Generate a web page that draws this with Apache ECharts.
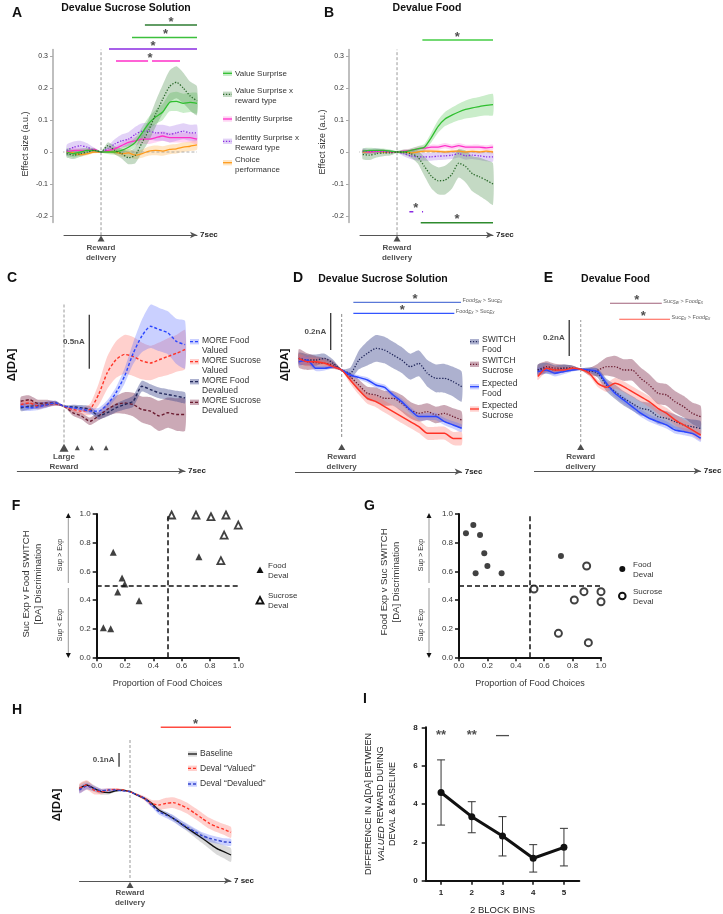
<!DOCTYPE html>
<html>
<head>
<meta charset="utf-8">
<script src="https://cdn.jsdelivr.net/npm/echarts@6.0.0/dist/echarts.min.js"></script>
<style>
  html, body { margin: 0; padding: 0; background: #fff; }
  #chart { width: 723px; height: 914px; }
</style>
</head>
<body>
<div id="chart"></div>
<script>
// ---------- data ----------
const timeAB = [-2.5, -2, -1.5, -1, -0.5, 0, 0.5, 1, 1.5, 2, 2.5, 3, 3.5, 4, 4.5, 5, 5.5, 6, 6.5, 7];
const timeH = [-3.5, -3, -2.5, -2, -1.5, -1, -0.5, 0, 0.5, 1, 1.5, 2, 2.5, 3, 3.5, 4, 4.5, 5, 5.5, 6, 6.5, 7];
const effectTicks = [-0.2, -0.1, 0, 0.1, 0.2, 0.3];

// A: devalue sucrose solution (effect size, a.u.)
const aValue = [0, -0.005, 0, 0.005, 0.005, 0, 0, 0, 0.005, 0.015, 0.03, 0.06, 0.09, 0.11, 0.125, 0.155, 0.158, 0.152, 0.155, 0.152];
const aValueSem = [0.012, 0.012, 0.01, 0.008, 0.006, 0.002, 0.006, 0.008, 0.01, 0.012, 0.015, 0.018, 0.02, 0.022, 0.025, 0.028, 0.03, 0.03, 0.03, 0.032];
const aValueRT = [-0.005, -0.01, -0.005, 0, 0.005, 0, 0.02, 0.005, -0.005, -0.018, -0.01, 0.03, 0.07, 0.12, 0.165, 0.205, 0.218, 0.2, 0.175, 0.16];
const aValueRTSem = [0.012, 0.012, 0.01, 0.008, 0.006, 0.002, 0.01, 0.012, 0.015, 0.02, 0.025, 0.03, 0.035, 0.04, 0.045, 0.05, 0.05, 0.048, 0.045, 0.045];
const aIdent = [0, 0.005, 0.005, 0.005, 0.008, 0, 0.005, 0.01, 0.02, 0.03, 0.035, 0.04, 0.04, 0.045, 0.05, 0.045, 0.045, 0.045, 0.045, 0.04];
const aIdentSem = [0.008, 0.008, 0.008, 0.006, 0.005, 0.002, 0.006, 0.008, 0.01, 0.012, 0.013, 0.014, 0.015, 0.015, 0.015, 0.015, 0.015, 0.015, 0.015, 0.015];
const aIdentRT = [0.005, 0.015, 0.02, 0.015, 0.005, 0, 0.01, 0.025, 0.035, 0.04, 0.055, 0.065, 0.065, 0.06, 0.06, 0.055, 0.06, 0.065, 0.06, 0.06];
const aIdentRTSem = [0.018, 0.018, 0.015, 0.012, 0.008, 0.003, 0.01, 0.015, 0.02, 0.022, 0.024, 0.025, 0.025, 0.025, 0.025, 0.025, 0.025, 0.025, 0.025, 0.025];
const aChoice = [0, -0.003, -0.008, -0.005, 0, 0, 0.002, 0, -0.005, -0.003, -0.01, -0.005, 0.003, 0.005, 0.003, 0.008, 0.01, 0.015, 0.018, 0.022];
const aChoiceSem = [0.006, 0.006, 0.006, 0.005, 0.004, 0.002, 0.006, 0.008, 0.01, 0.012, 0.012, 0.013, 0.014, 0.015, 0.015, 0.015, 0.015, 0.015, 0.015, 0.015];
const sigAValueRT = [[3.2, 7]];
const sigAValue = [[2.26, 7]];
const sigAIdentRT = [[0.58, 7]];
const sigAIdent = [[1.09, 3.43], [3.72, 5.76]];
const sigAStars = [5.1, 4.7, 3.8, 3.58];

// B: devalue food
const bValue = [0.003, 0.005, 0.005, 0.005, 0.003, 0, 0, 0.005, 0.01, 0.015, 0.045, 0.08, 0.103, 0.115, 0.125, 0.133, 0.138, 0.142, 0.146, 0.148];
const bValueSem = [0.008, 0.008, 0.007, 0.006, 0.005, 0.002, 0.004, 0.006, 0.008, 0.01, 0.015, 0.02, 0.022, 0.024, 0.026, 0.028, 0.03, 0.03, 0.032, 0.033];
const bValueRT = [-0.008, -0.01, -0.005, -0.003, -0.003, 0, 0, -0.005, -0.015, -0.045, -0.075, -0.09, -0.088, -0.07, -0.035, -0.045, -0.068, -0.077, -0.088, -0.1];
const bValueRTSem = [0.015, 0.015, 0.012, 0.01, 0.008, 0.003, 0.008, 0.012, 0.02, 0.03, 0.038, 0.042, 0.045, 0.045, 0.045, 0.05, 0.055, 0.06, 0.063, 0.065];
const bIdent = [0.002, 0, 0.002, 0.003, 0, 0, 0.003, 0.005, 0.01, 0.012, 0.015, 0.015, 0.02, 0.015, 0.02, 0.015, 0.015, 0.015, 0.013, 0.015];
const bIdentSem = [0.006, 0.006, 0.006, 0.005, 0.004, 0.002, 0.005, 0.006, 0.007, 0.008, 0.008, 0.008, 0.008, 0.008, 0.008, 0.008, 0.008, 0.008, 0.008, 0.008];
const bIdentRT = [0.003, 0.002, 0.004, 0.002, 0.001, 0, -0.005, -0.012, -0.015, -0.015, -0.015, -0.013, -0.012, -0.01, -0.005, -0.012, -0.01, -0.012, -0.015, -0.015];
const bIdentRTSem = [0.008, 0.008, 0.008, 0.006, 0.005, 0.002, 0.008, 0.01, 0.012, 0.012, 0.012, 0.012, 0.012, 0.012, 0.012, 0.012, 0.012, 0.013, 0.014, 0.015];
const bChoice = [0, 0, 0.002, 0, 0, 0, 0, -0.003, 0, 0.003, 0.003, 0.002, 0, 0.002, 0.003, 0, 0.002, 0, 0.003, 0];
const bChoiceSem = [0.005, 0.005, 0.005, 0.004, 0.004, 0.002, 0.004, 0.005, 0.005, 0.005, 0.005, 0.005, 0.005, 0.005, 0.005, 0.005, 0.005, 0.005, 0.005, 0.005];
const sigBValue = [[1.85, 7]];
const sigBValueRT = [[1.73, 7]];
const sigBIdentRT = [[0.9, 1.19], [1.82, 1.9]];
const sigBStars = [4.4, 4.37, 1.36];

// C: MORE trials (nA)
const cRewardTimes = [0, 0.77, 1.6, 2.43];
const cFoodVal = [0, -0.015, -0.006, 0.015, 0.03, 0, -0.015, -0.025, -0.046, -0.046, 0.015, 0.123, 0.278, 0.49, 0.65, 0.74, 0.71, 0.68, 0.6, 0.57];
const cFoodValSem = [0.03, 0.03, 0.03, 0.03, 0.02, 0.005, 0.02, 0.025, 0.03, 0.03, 0.04, 0.05, 0.07, 0.1, 0.15, 0.2, 0.2, 0.2, 0.21, 0.22];
const cSucVal = [0.015, 0.03, 0, 0.015, 0.025, 0, -0.03, -0.046, -0.03, 0.108, 0.31, 0.43, 0.48, 0.46, 0.42, 0.4, 0.43, 0.46, 0.49, 0.525];
const cSucValSem = [0.03, 0.03, 0.03, 0.025, 0.02, 0.005, 0.02, 0.03, 0.05, 0.1, 0.15, 0.17, 0.18, 0.18, 0.17, 0.16, 0.16, 0.17, 0.17, 0.18];
const cFoodDev = [-0.015, 0, 0.006, 0.015, 0.03, 0, -0.006, -0.015, -0.03, -0.09, -0.06, -0.015, 0.015, 0.046, 0.185, 0.154, 0.123, 0.108, 0.093, 0.077];
const cFoodDevSem = [0.03, 0.03, 0.03, 0.025, 0.02, 0.005, 0.02, 0.025, 0.03, 0.03, 0.035, 0.04, 0.045, 0.05, 0.05, 0.05, 0.05, 0.05, 0.05, 0.05];
const cSucDev = [0.046, 0.06, 0.025, 0.03, 0.025, 0, -0.06, -0.09, -0.14, -0.09, -0.03, 0.015, 0.03, 0.015, -0.03, -0.046, -0.09, -0.06, -0.077, -0.077];
const cSucDevSem = [0.04, 0.04, 0.035, 0.03, 0.02, 0.005, 0.025, 0.03, 0.035, 0.04, 0.06, 0.08, 0.1, 0.11, 0.12, 0.13, 0.14, 0.14, 0.15, 0.15];

// D: devalue sucrose solution (nA)
const dSwFood = [0.063, 0.054, 0.054, 0.063, 0.036, 0, -0.018, 0.054, 0.09, 0.117, 0.108, 0.081, 0.054, 0.018, 0.036, -0.018, -0.045, -0.045, -0.063, -0.09];
const dSwFoodSem = [0.03, 0.03, 0.03, 0.025, 0.02, 0.005, 0.03, 0.05, 0.065, 0.072, 0.072, 0.072, 0.07, 0.07, 0.07, 0.072, 0.075, 0.078, 0.08, 0.08];
const dSwSuc = [0.063, 0.045, 0.04, 0.036, 0.027, 0, -0.036, -0.081, -0.126, -0.135, -0.153, -0.153, -0.18, -0.216, -0.234, -0.225, -0.243, -0.234, -0.252, -0.27];
const dSwSucSem = [0.05, 0.045, 0.035, 0.03, 0.02, 0.005, 0.02, 0.03, 0.035, 0.04, 0.04, 0.04, 0.045, 0.045, 0.045, 0.045, 0.045, 0.045, 0.045, 0.045];
const dExpFood = [0.045, 0.054, 0.009, 0.009, 0.018, 0, -0.027, -0.04, -0.054, -0.081, -0.094, -0.135, -0.171, -0.216, -0.252, -0.252, -0.252, -0.279, -0.297, -0.315];
const dExpFoodSem = [0.02, 0.02, 0.015, 0.012, 0.01, 0.004, 0.01, 0.012, 0.015, 0.015, 0.015, 0.015, 0.017, 0.018, 0.02, 0.02, 0.02, 0.02, 0.02, 0.02];
const dExpSuc = [0.063, 0.045, 0.045, 0.036, 0.018, 0, -0.054, -0.108, -0.153, -0.171, -0.198, -0.225, -0.252, -0.279, -0.306, -0.342, -0.342, -0.342, -0.37, -0.37];
const dExpSucSem = [0.025, 0.025, 0.02, 0.015, 0.012, 0.004, 0.02, 0.025, 0.03, 0.03, 0.032, 0.033, 0.035, 0.035, 0.035, 0.035, 0.035, 0.035, 0.035, 0.035];
const sigDSwFood = [[0.68, 6.96]];
const sigDExpFood = [[0.68, 6.57]];
const sigDStars = [4.28, 3.54];

// E: devalue food (nA)
const eSwFood = [-0.004, 0.006, -0.004, 0.006, 0.006, 0, -0.004, -0.022, -0.087, -0.124, -0.161, -0.189, -0.217, -0.226, -0.263, -0.272, -0.291, -0.309, -0.319, -0.328];
const eSwFoodSem = [0.03, 0.03, 0.025, 0.02, 0.015, 0.005, 0.015, 0.025, 0.035, 0.04, 0.04, 0.04, 0.04, 0.04, 0.04, 0.04, 0.04, 0.04, 0.04, 0.04];
const eSwSuc = [-0.004, 0.015, 0.006, 0.006, 0.006, 0, -0.013, -0.004, 0.015, 0.015, -0.004, -0.004, -0.05, -0.087, -0.133, -0.142, -0.18, -0.207, -0.244, -0.263];
const eSwSucSem = [0.03, 0.03, 0.025, 0.02, 0.015, 0.005, 0.02, 0.035, 0.05, 0.06, 0.06, 0.06, 0.06, 0.06, 0.06, 0.06, 0.06, 0.06, 0.06, 0.06];
const eExpFood = [-0.013, -0.004, -0.022, -0.013, -0.004, 0, -0.004, -0.013, -0.078, -0.133, -0.17, -0.207, -0.244, -0.272, -0.291, -0.309, -0.337, -0.346, -0.356, -0.383];
const eExpFoodSem = [0.02, 0.02, 0.018, 0.015, 0.01, 0.004, 0.01, 0.015, 0.02, 0.02, 0.02, 0.02, 0.02, 0.02, 0.02, 0.02, 0.02, 0.02, 0.02, 0.02];
const eExpSuc = [-0.04, 0.006, -0.004, -0.004, 0.006, 0, -0.022, -0.078, -0.1, -0.078, -0.096, -0.124, -0.152, -0.18, -0.217, -0.244, -0.281, -0.309, -0.337, -0.365];
const eExpSucSem = [0.02, 0.02, 0.02, 0.015, 0.01, 0.004, 0.015, 0.02, 0.025, 0.03, 0.03, 0.03, 0.03, 0.03, 0.03, 0.03, 0.03, 0.03, 0.03, 0.03];
const sigESwSuc = [[1.71, 4.73]];
const sigEExpSuc = [[2.25, 5.21]];
const sigEStars = [3.27, 3.65];

// F / G: discrimination vs proportion of food choices
const fFoodX = [0.047, 0.099, 0.117, 0.148, 0.179, 0.198, 0.299, 0.722];
const fFoodY = [0.207, 0.2, 0.733, 0.456, 0.553, 0.511, 0.395, 0.702];
const fSucX = [0.529, 0.701, 0.807, 0.913, 1.0, 0.9, 0.877];
const fSucY = [0.993, 0.993, 0.981, 0.993, 0.923, 0.853, 0.674];
const gFoodX = [0.049, 0.101, 0.148, 0.178, 0.2, 0.117, 0.3, 0.718];
const gFoodY = [0.865, 0.923, 0.853, 0.726, 0.637, 0.586, 0.586, 0.707];
const gSucX = [0.528, 0.899, 0.812, 0.88, 1.0, 1.0, 0.7, 0.911];
const gSucY = [0.477, 0.637, 0.4, 0.458, 0.458, 0.388, 0.167, 0.102];

// H: baseline vs deval (nA)
const hBase = [0.024, 0.049, 0.024, 0, -0.007, 0.007, 0.012, 0, -0.024, -0.049, -0.085, -0.134, -0.163, -0.195, -0.231, -0.268, -0.304, -0.34, -0.377, -0.414, -0.438, -0.462];
const hBaseSem = [0.03, 0.03, 0.025, 0.02, 0.015, 0.01, 0.008, 0.004, 0.008, 0.01, 0.012, 0.015, 0.017, 0.02, 0.022, 0.025, 0.03, 0.035, 0.04, 0.045, 0.048, 0.05];
const hVal = [0.024, 0.049, 0.012, 0, 0.012, 0.017, 0.012, 0, -0.024, -0.049, -0.085, -0.097, -0.085, -0.08, -0.097, -0.122, -0.158, -0.195, -0.231, -0.255, -0.275, -0.297];
const hValSem = [0.035, 0.035, 0.03, 0.02, 0.015, 0.01, 0.008, 0.004, 0.01, 0.015, 0.025, 0.035, 0.04, 0.04, 0.04, 0.04, 0.04, 0.04, 0.04, 0.04, 0.04, 0.04];
const hDev = [0.012, 0.041, 0.024, 0.007, 0.012, 0.012, 0.007, 0, -0.024, -0.049, -0.097, -0.146, -0.17, -0.195, -0.231, -0.26, -0.292, -0.321, -0.34, -0.353, -0.365, -0.37];
const hDevSem = [0.025, 0.025, 0.02, 0.015, 0.012, 0.008, 0.006, 0.004, 0.008, 0.01, 0.015, 0.02, 0.022, 0.025, 0.025, 0.025, 0.025, 0.025, 0.025, 0.025, 0.025, 0.025];
const sigH = [[2.13, 7]];
const sigHStars = [4.55];

// I: difference per 2-block bin
const iBins = ['1', '2', '3', '4', '5'];
const iMean = [4.6, 3.34, 2.33, 1.17, 1.74];
const iUpper = [6.3, 4.12, 3.34, 1.88, 2.73];
const iLower = [2.9, 2.5, 1.29, 0.45, 0.77];
const iMarks = ['**', '**', '—'];

// ---------- helpers ----------
const FONT = '"Liberation Sans", Arial, Helvetica, sans-serif';
const grids = [], xAxes = [], yAxes = [], series = [], graphics = [];

function addGrid(g, x, y) {
    grids.push(Object.assign({ containLabel: false, outerBoundsMode: 'none' }, g));
    const gi = grids.length - 1;
    x.gridIndex = gi; y.gridIndex = gi;
    xAxes.push(x); yAxes.push(y);
    return gi;
}

function timeAxis(min, name, offset) {
    return {
        type: 'value', min: min, max: 7, offset: offset || 0,
        axisLine: { show: true, onZero: false, symbol: ['none', 'arrow'], symbolSize: [5, 7], lineStyle: { color: '#555', width: 1 } },
        axisTick: { show: false }, axisLabel: { show: false }, splitLine: { show: false },
        name: name, nameLocation: 'end', nameGap: 3,
        nameTextStyle: { fontFamily: FONT, fontSize: 8, fontWeight: 'bold', color: '#222', verticalAlign: 'middle' }
    };
}

function hiddenY(min, max) {
    return { type: 'value', min: min, max: max, show: false, axisLine: { onZero: false }, splitLine: { show: false } };
}

function effectY() {
    return {
        type: 'value', min: -0.22, max: 0.32, offset: 11,
        axisLine: { show: true, onZero: false, lineStyle: { color: '#aaa', width: 1.5 } },
        axisTick: { show: true, customValues: effectTicks, length: 3, lineStyle: { color: '#aaa' } },
        axisLabel: { customValues: effectTicks, fontFamily: FONT, fontSize: 7, color: '#333', margin: 5,
            formatter: v => (v === 0 ? '0' : v.toFixed(1)) },
        splitLine: { show: false }
    };
}

function band(gi, times, mean, sem, fill) {
    series.push({
        type: 'custom', xAxisIndex: gi, yAxisIndex: gi, silent: true, z: 1,
        data: times.map((t, i) => [t, mean[i] - sem[i], mean[i] + sem[i]]),
        encode: { x: 0, y: [1, 2] },
        renderItem: function (params, api) {
            if (params.dataIndex !== 0) return null;
            const top = [], bottom = [];
            for (let i = 0; i < times.length; i++) {
                top.push(api.coord([times[i], mean[i] + sem[i]]));
                bottom.push(api.coord([times[i], mean[i] - sem[i]]));
            }
            return { type: 'polygon', shape: { points: top.concat(bottom.reverse()), smooth: 0.2 }, style: { fill: fill } };
        }
    });
}

function trace(gi, times, mean, color, type, width) {
    series.push({
        type: 'line', xAxisIndex: gi, yAxisIndex: gi, silent: true, z: 3,
        data: times.map((t, i) => [t, mean[i]]), symbol: 'none', smooth: 0.2,
        lineStyle: { color: color, width: width || 1.3, type: type || 'solid' }
    });
}

function seg(gi, pts, color, width, type) {
    series.push({
        type: 'line', xAxisIndex: gi, yAxisIndex: gi, silent: true, z: 2, clip: false,
        data: pts, symbol: 'none', lineStyle: { color: color, width: width, type: type || 'solid' }
    });
}

function mark(gi, pts, symbol, size, color, label, extra) {
    series.push(Object.assign({
        type: 'scatter', xAxisIndex: gi, yAxisIndex: gi, silent: true, z: 5, clip: false,
        data: pts, symbol: symbol, symbolSize: size, itemStyle: { color: color },
        label: Object.assign({ show: !!label, fontFamily: FONT, color: '#222' }, label || {})
    }, extra || {}));
}

function textAt(gi, pt, text, label) {
    mark(gi, [pt], 'circle', 1, 'rgba(0,0,0,0)', Object.assign({ formatter: text }, label));
}

function sigBar(gi, segs, y, color, star, width) {
    segs.forEach(s => seg(gi, [[s[0], y], [s[1], y]], color, width || 1.5));
    textAt(gi, [star, y], '*', { position: 'inside', offset: [0, -3], fontSize: 13, fontWeight: 'bold', color: '#222' });
}

function scaleBar(gi, t, y0, amount, text) {
    seg(gi, [[t, y0], [t, y0 + amount]], '#222', 1.2);
    textAt(gi, [t, y0 + amount / 2], text, { position: 'left', distance: 4, fontSize: 8, fontWeight: 'bold' });
}

function reward(gi, y, text, size, dist) {
    mark(gi, [[0, y]], 'triangle', size || [7, 6], '#222', {
        position: 'bottom', distance: dist, formatter: text, fontSize: 8, fontWeight: 'bold', lineHeight: 10
    });
}

function txt(x, y, text, style, rot) {
    graphics.push({
        type: 'text', x: x, y: y, rotation: rot || 0, silent: true,
        style: Object.assign({ text: text, fontFamily: FONT, fontSize: 8, fill: '#222', align: 'left', verticalAlign: 'middle' }, style || {})
    });
}

function legendItem(x, y, textTop, text, color, dash, fill, fontSize) {
    graphics.push({ type: 'rect', silent: true, shape: { x: x, y: y - 2.7, width: 9, height: 5.4 }, style: { fill: fill } });
    graphics.push({ type: 'line', silent: true, shape: { x1: x, y1: y, x2: x + 9, y2: y }, style: { stroke: color, lineWidth: 1.3, lineDash: dash } });
    graphics.push({
        type: 'text', silent: true, x: x + 12, y: textTop,
        style: { text: text, fontFamily: FONT, fontSize: fontSize, lineHeight: 10, fill: '#333', align: 'left', verticalAlign: 'top' }
    });
}

const DOT = [1.3, 1.6];
const DASH = [3, 2];
const COL = {
    value: '#2fbf2f', valueBand: 'rgba(90,200,90,0.32)',
    valueRT: '#2b6a2b', valueRTBand: 'rgba(70,140,70,0.32)',
    ident: '#ff2fc8', identBand: 'rgba(255,120,220,0.32)',
    identRT: '#8a2be2', identRTBand: 'rgba(165,115,230,0.32)',
    choice: '#ff9a1a', choiceBand: 'rgba(255,190,100,0.38)',
    blue: '#2a46ff', blueBand: 'rgba(90,110,255,0.32)',
    red: '#ff3326', redBand: 'rgba(255,110,100,0.32)',
    navy: '#22285c', navyBand: 'rgba(60,70,140,0.42)',
    maroon: '#6b1c30', maroonBand: 'rgba(130,50,80,0.42)',
    black: '#111', greyBand: 'rgba(150,150,150,0.35)'
};

// ---------- A ----------
const gA = addGrid({ left: 64, top: 49.6, width: 133, height: 172.8 }, timeAxis(-2.7, '7sec', 12.6), effectY());
seg(gA, [[-3.25, 0], [7, 0]], '#999', 0.8, [3, 2]);
seg(gA, [[0, -0.26], [0, 0.32]], '#999', 1, [3, 2]);
band(gA, timeAB, aChoice, aChoiceSem, COL.choiceBand);
band(gA, timeAB, aIdent, aIdentSem, COL.identBand);
band(gA, timeAB, aIdentRT, aIdentRTSem, COL.identRTBand);
band(gA, timeAB, aValue, aValueSem, COL.valueBand);
band(gA, timeAB, aValueRT, aValueRTSem, COL.valueRTBand);
trace(gA, timeAB, aChoice, COL.choice);
trace(gA, timeAB, aIdent, COL.ident);
trace(gA, timeAB, aIdentRT, COL.identRT, DOT);
trace(gA, timeAB, aValue, COL.value);
trace(gA, timeAB, aValueRT, COL.valueRT, DOT);
sigBar(gA, sigAValueRT, 0.397, '#2e7d32', sigAStars[0]);
sigBar(gA, sigAValue, 0.358, '#3cc03c', sigAStars[1]);
sigBar(gA, sigAIdentRT, 0.322, '#8a2be2', sigAStars[2]);
sigBar(gA, sigAIdent, 0.284, '#ff2fc8', sigAStars[3]);
reward(gA, -0.27, 'Reward\ndelivery', [7, 6], 1);

// ---------- B ----------
const gB = addGrid({ left: 360, top: 49.6, width: 133, height: 172.8 }, timeAxis(-2.7, '7sec', 12.6), effectY());
seg(gB, [[-3.3, 0], [7, 0]], '#999', 0.8, [3, 2]);
seg(gB, [[0, -0.26], [0, 0.32]], '#999', 1, [3, 2]);
band(gB, timeAB, bChoice, bChoiceSem, COL.choiceBand);
band(gB, timeAB, bIdent, bIdentSem, COL.identBand);
band(gB, timeAB, bIdentRT, bIdentRTSem, COL.identRTBand);
band(gB, timeAB, bValue, bValueSem, COL.valueBand);
band(gB, timeAB, bValueRT, bValueRTSem, COL.valueRTBand);
trace(gB, timeAB, bChoice, COL.choice);
trace(gB, timeAB, bIdent, COL.ident);
trace(gB, timeAB, bIdentRT, COL.identRT, DOT);
trace(gB, timeAB, bValue, COL.value);
trace(gB, timeAB, bValueRT, COL.valueRT, DOT);
sigBar(gB, sigBValue, 0.35, '#44cc44', sigBStars[0]);
sigBar(gB, sigBValueRT, -0.221, '#2e8b2e', sigBStars[1]);
sigBar(gB, sigBIdentRT, -0.187, '#8a2be2', sigBStars[2]);
reward(gB, -0.27, 'Reward\ndelivery', [7, 6], 1);

// ---------- C ----------
const gC = addGrid({ left: 17.3, top: 298.2, width: 167.8, height: 172.8 }, timeAxis(-2.7, '7sec'), hiddenY(-0.6, 1.0));
seg(gC, [[0, -0.336], [0, 0.96]], '#aaa', 1.2, [3, 2]);
band(gC, timeAB, cSucDev, cSucDevSem, COL.maroonBand);
band(gC, timeAB, cFoodDev, cFoodDevSem, COL.navyBand);
band(gC, timeAB, cSucVal, cSucValSem, COL.redBand);
band(gC, timeAB, cFoodVal, cFoodValSem, COL.blueBand);
trace(gC, timeAB, cSucDev, COL.maroon, DASH, 1.4);
trace(gC, timeAB, cFoodDev, COL.navy, DASH, 1.4);
trace(gC, timeAB, cSucVal, COL.red, DASH, 1.4);
trace(gC, timeAB, cFoodVal, COL.blue, DASH, 1.4);
scaleBar(gC, 1.46, 0.346, 0.5, '0.5nA');
mark(gC, cRewardTimes.slice(1).map(t => [t, -0.385]), 'triangle', [5, 5], '#222');
reward(gC, -0.385, 'Large\nReward', [9, 8], 0);

// ---------- D ----------
const gD = addGrid({ left: 295.4, top: 277.5, width: 166.3, height: 194.25 }, timeAxis(-2.7, '7sec'), hiddenY(-0.55, 0.5));
seg(gD, [[0, -0.362], [0, 0.308]], '#888', 1, [3, 2]);
band(gD, timeAB, dSwFood, dSwFoodSem, COL.navyBand);
band(gD, timeAB, dSwSuc, dSwSucSem, COL.maroonBand);
band(gD, timeAB, dExpFood, dExpFoodSem, COL.blueBand);
band(gD, timeAB, dExpSuc, dExpSucSem, COL.redBand);
trace(gD, timeAB, dSwFood, COL.navy, DOT);
trace(gD, timeAB, dSwSuc, COL.maroon, DOT);
trace(gD, timeAB, dExpFood, COL.blue, 'solid', 1.5);
trace(gD, timeAB, dExpSuc, COL.red, 'solid', 1.5);
sigBar(gD, sigDSwFood, 0.366, '#5a78d8', sigDStars[0], 1.2);
sigBar(gD, sigDExpFood, 0.306, '#3355ff', sigDStars[1], 1.2);
const subRich = {
    n: { fontFamily: FONT, fontSize: 5.5, color: '#333' },
    s: { fontFamily: FONT, fontSize: 4.5, color: '#333', fontStyle: 'italic', verticalAlign: 'bottom', padding: [3, 0, 0, 0] }
};
textAt(gD, [sigDSwFood[0][1], 0.366], '{n|Food}{s|Sw}{n| > Suc}{s|Ex}', { position: 'right', distance: 1, offset: [0, -2], rich: subRich });
textAt(gD, [sigDExpFood[0][1], 0.306], '{n|Food}{s|Ex}{n| > Suc}{s|Ex}', { position: 'right', distance: 1, offset: [0, -2], rich: subRich });
scaleBar(gD, -0.64, 0.108, 0.2, '0.2nA');
reward(gD, -0.416, 'Reward\ndelivery', [7, 6], 1.5);

// ---------- E ----------
const gE = addGrid({ left: 534.4, top: 279.3, width: 166.3, height: 191.7 }, timeAxis(-2.7, '7sec'), hiddenY(-0.565, 0.5));
seg(gE, [[0, -0.404], [0, 0.274]], '#aaa', 1.2, [3, 2]);
band(gE, timeAB, eSwSuc, eSwSucSem, COL.maroonBand);
band(gE, timeAB, eSwFood, eSwFoodSem, COL.navyBand);
band(gE, timeAB, eExpFood, eExpFoodSem, COL.blueBand);
band(gE, timeAB, eExpSuc, eExpSucSem, COL.redBand);
trace(gE, timeAB, eSwSuc, COL.maroon, DOT);
trace(gE, timeAB, eSwFood, COL.navy, DOT);
trace(gE, timeAB, eExpFood, COL.blue, 'solid', 1.5);
trace(gE, timeAB, eExpSuc, COL.red, 'solid', 1.5);
sigBar(gE, sigESwSuc, 0.367, '#a0607a', sigEStars[0], 1.2);
sigBar(gE, sigEExpSuc, 0.278, '#ff5a4a', sigEStars[1], 1.2);
textAt(gE, [sigESwSuc[0][1], 0.367], '{n|Suc}{s|Sw}{n| > Food}{s|Ex}', { position: 'right', distance: 1, offset: [0, -2], rich: subRich });
textAt(gE, [sigEExpSuc[0][1], 0.278], '{n|Suc}{s|Ex}{n| > Food}{s|Ex}', { position: 'right', distance: 1, offset: [0, -2], rich: subRich });
scaleBar(gE, -0.67, 0.074, 0.2, '0.2nA');
reward(gE, -0.432, 'Reward\ndelivery', [7, 6], 1.5);

// ---------- F / G ----------
function propX() {
    return {
        type: 'value', min: 0, max: 1, interval: 0.2,
        axisLine: { show: true, onZero: false, lineStyle: { color: '#111', width: 2 } },
        axisTick: { show: true, length: 4, lineStyle: { color: '#111', width: 1.5 } },
        axisLabel: { fontFamily: FONT, fontSize: 8, color: '#333', margin: 4, formatter: v => v.toFixed(1) },
        splitLine: { show: false },
        name: 'Proportion of Food Choices', nameLocation: 'middle', nameGap: 22,
        nameTextStyle: { fontFamily: FONT, fontSize: 9, color: '#333' }
    };
}
function propY() {
    return {
        type: 'value', min: 0, max: 1, interval: 0.2,
        axisLine: { show: true, onZero: false, lineStyle: { color: '#111', width: 2 } },
        axisTick: { show: true, length: 4, lineStyle: { color: '#111', width: 1.5 } },
        axisLabel: { fontFamily: FONT, fontSize: 8, color: '#333', margin: 6, formatter: v => v.toFixed(1) },
        splitLine: { show: false }
    };
}
const quadLines = {
    silent: true, symbol: 'none', label: { show: false },
    lineStyle: { color: '#111', width: 1.5, type: [5, 3] },
    data: [{ yAxis: 0.5 }, { xAxis: 0.5 }]
};
const gF = addGrid({ left: 96.7, top: 514, width: 141.6, height: 143.3 }, propX(), propY());
mark(gF, fFoodX.map((x, i) => [x, fFoodY[i]]), 'triangle', [7, 7], '#111', null, { markLine: quadLines });
mark(gF, fSucX.map((x, i) => [x, fSucY[i]]), 'triangle', [7, 7], '#fff', null,
    { itemStyle: { color: '#fff', borderColor: '#111', borderWidth: 1.8 } });

const gG = addGrid({ left: 459, top: 514, width: 142, height: 143.3 }, propX(), propY());
mark(gG, gFoodX.map((x, i) => [x, gFoodY[i]]), 'circle', 6, '#111', null, { markLine: quadLines });
mark(gG, gSucX.map((x, i) => [x, gSucY[i]]), 'circle', 7, '#fff', null,
    { itemStyle: { color: '#fff', borderColor: '#111', borderWidth: 2 } });

// ---------- H ----------
const gH = addGrid({ left: 79.5, top: 723.2, width: 151.5, height: 157.55 }, timeAxis(-3.5, '7 sec'), hiddenY(-0.65, 0.5));
seg(gH, [[0, -0.63], [0, 0.385]], '#aaa', 1.2, [3, 2]);
band(gH, timeH, hBase, hBaseSem, COL.greyBand);
band(gH, timeH, hVal, hValSem, COL.redBand);
band(gH, timeH, hDev, hDevSem, COL.blueBand);
trace(gH, timeH, hBase, COL.black, 'solid', 1.3);
trace(gH, timeH, hVal, COL.red, DASH, 1.4);
trace(gH, timeH, hDev, '#3344cc', DASH, 1.4);
sigBar(gH, sigH, 0.47, '#ff4a40', sigHStars[0]);
scaleBar(gH, -0.76, 0.182, 0.1, '0.1nA');
reward(gH, -0.681, 'Reward\ndelivery', [7, 6], 0);

// ---------- I ----------
const gI = addGrid({ left: 425.7, top: 727.3, width: 153.6, height: 153.4 },
    {
        type: 'category', data: iBins, boundaryGap: true,
        axisLine: { show: true, onZero: false, lineStyle: { color: '#111', width: 2 } },
        axisTick: { show: true, alignWithLabel: true, length: 4, lineStyle: { color: '#111', width: 1.5 } },
        axisLabel: { fontFamily: FONT, fontSize: 8, fontWeight: 'bold', color: '#222', margin: 8 },
        name: '2 BLOCK BINS', nameLocation: 'middle', nameGap: 25,
        nameTextStyle: { fontFamily: FONT, fontSize: 9.5, color: '#222' }
    },
    {
        type: 'value', min: 0, max: 8, interval: 2,
        axisLine: { show: true, onZero: false, lineStyle: { color: '#111', width: 2 } },
        axisTick: { show: true, length: 4, lineStyle: { color: '#111', width: 1.5 } },
        axisLabel: { fontFamily: FONT, fontSize: 8, fontWeight: 'bold', color: '#222', margin: 8 },
        splitLine: { show: false }
    });
series.push({
    type: 'custom', xAxisIndex: gI, yAxisIndex: gI, silent: true, z: 2,
    data: iBins.map((b, i) => [i, iLower[i], iUpper[i]]),
    encode: { x: 0, y: [1, 2] },
    renderItem: function (params, api) {
        const lo = api.coord([api.value(0), api.value(1)]);
        const hi = api.coord([api.value(0), api.value(2)]);
        const w = 4, st = { stroke: '#333', lineWidth: 1 };
        return {
            type: 'group', children: [
                { type: 'line', shape: { x1: lo[0], y1: lo[1], x2: hi[0], y2: hi[1] }, style: st },
                { type: 'line', shape: { x1: lo[0] - w, y1: lo[1], x2: lo[0] + w, y2: lo[1] }, style: st },
                { type: 'line', shape: { x1: hi[0] - w, y1: hi[1], x2: hi[0] + w, y2: hi[1] }, style: st }
            ]
        };
    }
});
series.push({
    type: 'line', xAxisIndex: gI, yAxisIndex: gI, silent: true, z: 4,
    data: iMean, symbol: 'circle', symbolSize: 7,
    itemStyle: { color: '#111' }, lineStyle: { color: '#111', width: 3 }
});
mark(gI, iMarks.map((m, i) => [i, 7.6]), 'circle', 1, 'rgba(0,0,0,0)', {
    position: 'inside', formatter: p => iMarks[p.dataIndex], fontSize: 13, fontWeight: 'bold', color: '#222'
});

// ---------- text, legends, annotations ----------
const letter = { fontSize: 14, fontWeight: 'bold', align: 'center', fill: '#111' };
txt(17, 13, 'A', letter); txt(329, 13, 'B', letter); txt(12, 278, 'C', letter);
txt(298, 278, 'D', letter); txt(548.5, 278, 'E', letter); txt(16, 506, 'F', letter);
txt(369.5, 506, 'G', letter); txt(17, 710, 'H', letter); txt(365, 699, 'I', letter);

const ttl = { fontSize: 10.5, fontWeight: 'bold', align: 'center', fill: '#111' };
txt(126, 8.5, 'Devalue Sucrose Solution', ttl);
txt(427, 8.5, 'Devalue Food', ttl);
txt(383, 279, 'Devalue Sucrose Solution', ttl);
txt(615.5, 279, 'Devalue Food', ttl);

const rotC = { align: 'center', fontSize: 9, fill: '#333' };
txt(26, 144, 'Effect size (a.u.)', rotC, Math.PI / 2);
txt(323, 142, 'Effect size (a.u.)', rotC, Math.PI / 2);
const daStyle = { align: 'center', fontSize: 11.5, fontWeight: 'bold', fill: '#111' };
txt(12, 365, 'Δ[DA]', daStyle, Math.PI / 2);
txt(284.7, 365, 'Δ[DA]', daStyle, Math.PI / 2);
txt(56.7, 805, 'Δ[DA]', daStyle, Math.PI / 2);

// A legend
legendItem(223, 73.3, 68.3, 'Value Surprise', COL.value, null, COL.valueBand, 8);
legendItem(223, 94.3, 85.7, 'Value Surprise x\nreward type', COL.valueRT, DOT, COL.valueRTBand, 8);
legendItem(223, 119, 114, 'Identity Surprise', COL.ident, null, COL.identBand, 8);
legendItem(223, 141.3, 132.3, 'Identity Surprise x\nReward type', COL.identRT, DOT, COL.identRTBand, 8);
legendItem(223, 162.7, 154.3, 'Choice\nperformance', COL.choice, null, COL.choiceBand, 8);

// C legend
legendItem(190, 341.7, 335.7, 'MORE Food\nValued', COL.blue, DASH, COL.blueBand, 8.5);
legendItem(190, 361.7, 355.7, 'MORE Sucrose\nValued', COL.red, DASH, COL.redBand, 8.5);
legendItem(190, 381.7, 375.7, 'MORE Food\nDevalued', COL.navy, DASH, COL.navyBand, 8.5);
legendItem(190, 402.3, 396, 'MORE Sucrose\nDevalued', COL.maroon, DASH, COL.maroonBand, 8.5);

// D legend
legendItem(470, 341.7, 334.3, 'SWITCH\nFood', COL.navy, DOT, COL.navyBand, 8.5);
legendItem(470, 364.3, 356, 'SWITCH\nSucrose', COL.maroon, DOT, COL.maroonBand, 8.5);
legendItem(470, 386.7, 378.3, 'Expected\nFood', COL.blue, null, COL.blueBand, 8.5);
legendItem(470, 409, 401, 'Expected\nSucrose', COL.red, null, COL.redBand, 8.5);

// H legend
legendItem(188, 754, 749, 'Baseline', COL.black, null, COL.greyBand, 8.5);
legendItem(188, 768.3, 763.3, 'Deval \u201cValued\u201d', COL.red, DASH, COL.redBand, 8.5);
legendItem(188, 784, 779, 'Deval \u201cDevalued\u201d', '#3344cc', DASH, COL.blueBand, 8.5);

// F / G y names and direction arrows
const yName = { align: 'center', fontSize: 9.5, lineHeight: 11.7, fill: '#333' };
txt(32.5, 584, 'Suc Exp v Food SWITCH\n[DA] Discrimination', yName, Math.PI / 2);
txt(390.5, 582, 'Food Exp v Suc SWITCH\n[DA] Discrimination', yName, Math.PI / 2);
function dirArrows(x, tx) {
    graphics.push({ type: 'line', silent: true, shape: { x1: x, y1: 517, x2: x, y2: 583 }, style: { stroke: '#999', lineWidth: 1 } });
    graphics.push({ type: 'line', silent: true, shape: { x1: x, y1: 588, x2: x, y2: 654 }, style: { stroke: '#999', lineWidth: 1 } });
    graphics.push({ type: 'polygon', silent: true, shape: { points: [[x, 513], [x - 2.5, 518], [x + 2.5, 518]] }, style: { fill: '#111' } });
    graphics.push({ type: 'polygon', silent: true, shape: { points: [[x, 658], [x - 2.5, 653], [x + 2.5, 653]] }, style: { fill: '#111' } });
    txt(tx, 555, 'Sup > Exp', { align: 'center', fontSize: 7, fill: '#333' }, Math.PI / 2);
    txt(tx, 625, 'Sup < Exp', { align: 'center', fontSize: 7, fill: '#333' }, Math.PI / 2);
}
dirArrows(68.3, 60);
dirArrows(429, 421);

// F / G legends
graphics.push({ type: 'polygon', silent: true, shape: { points: [[260, 566.5], [263.5, 573], [256.5, 573]] }, style: { fill: '#111' } });
graphics.push({ type: 'polygon', silent: true, shape: { points: [[260, 597], [263.5, 603.5], [256.5, 603.5]] }, style: { fill: '#fff', stroke: '#111', lineWidth: 1.8 } });
txt(268, 561, 'Food\nDeval', { verticalAlign: 'top', lineHeight: 10, fill: '#333' });
txt(268, 591, 'Sucrose\nDeval', { verticalAlign: 'top', lineHeight: 10, fill: '#333' });
graphics.push({ type: 'circle', silent: true, shape: { cx: 622.3, cy: 569, r: 3 }, style: { fill: '#111' } });
graphics.push({ type: 'circle', silent: true, shape: { cx: 622.3, cy: 596, r: 3.3 }, style: { fill: '#fff', stroke: '#111', lineWidth: 2 } });
txt(633, 559.5, 'Food\nDeval', { verticalAlign: 'top', lineHeight: 10, fill: '#333' });
txt(633, 586.7, 'Sucrose\nDeval', { verticalAlign: 'top', lineHeight: 10, fill: '#333' });

// I y name
graphics.push({
    type: 'text', silent: true, x: 381, y: 804, rotation: Math.PI / 2,
    style: {
        text: '{a|DIFFERENCE IN Δ[DA] BETWEEN}\n{i|VALUED}{a| REWARD DURING}\n{a|DEVAL & BASELINE}',
        align: 'center', verticalAlign: 'middle',
        rich: {
            a: { fontFamily: FONT, fontSize: 9, lineHeight: 12, fill: '#222' },
            i: { fontFamily: FONT, fontSize: 9, lineHeight: 12, fontStyle: 'italic', fill: '#222' }
        }
    }
});

const chart = echarts.init(document.getElementById('chart'), null, { renderer: 'canvas' });
chart.setOption({
    animation: false,
    backgroundColor: '#fff',
    textStyle: { fontFamily: FONT },
    grid: grids, xAxis: xAxes, yAxis: yAxes, series: series,
    graphic: { elements: graphics }
});
window.addEventListener('resize', function () { chart.resize(); });
</script>
</body>
</html>
